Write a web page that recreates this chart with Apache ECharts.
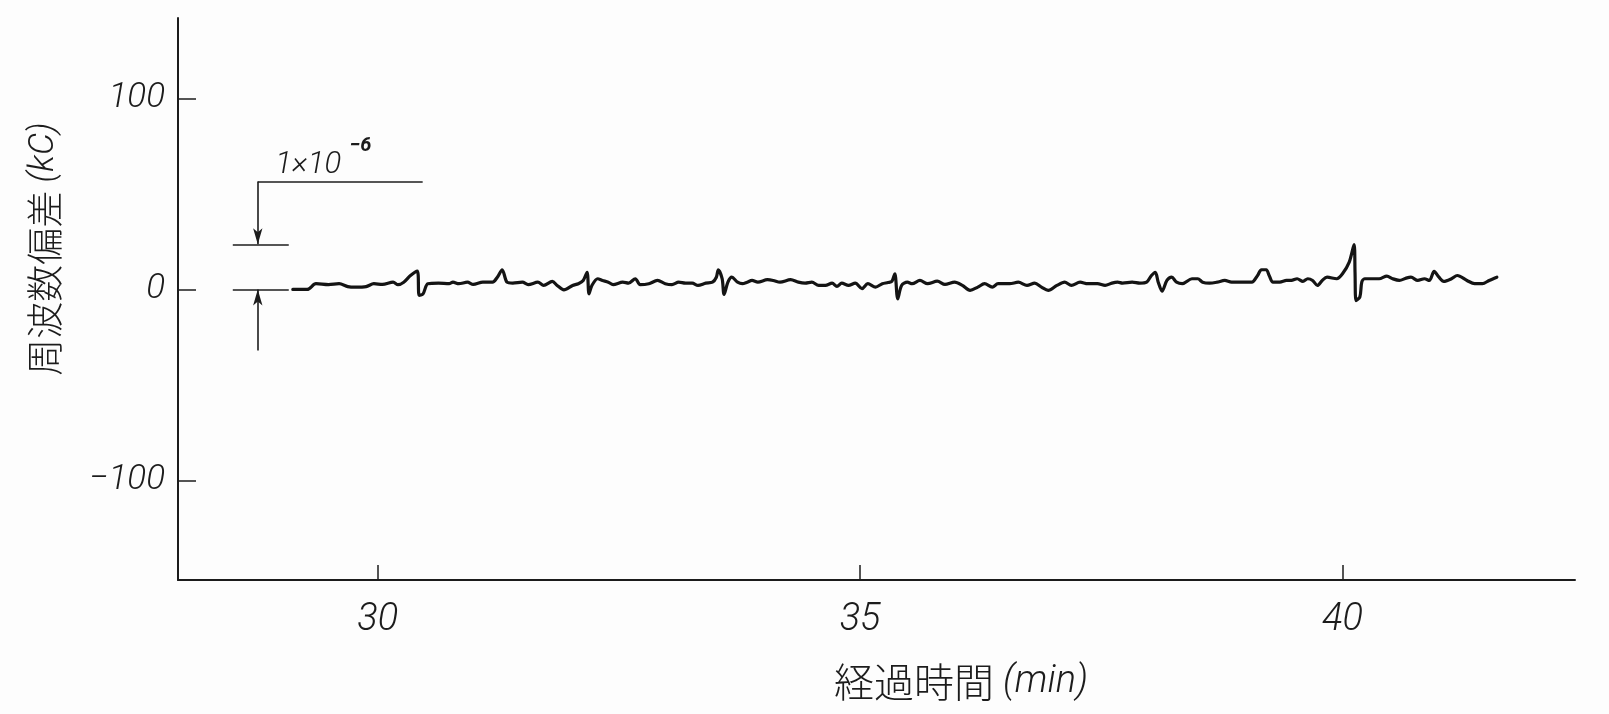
<!DOCTYPE html>
<html>
<head>
<meta charset="utf-8">
<title>周波数偏差</title>
<script src="https://cdn.jsdelivr.net/npm/echarts@6/dist/echarts.min.js"></script>
<style>
  html, body { margin: 0; padding: 0; background: #fdfdfd; }
  #chart { width: 1609px; height: 714px; }
</style>
</head>
<body>
<div id="chart"></div>
<script>
// Elapsed time (min)
const minutes = [
  29.12, 29.27, 29.36, 29.49, 29.60, 29.69, 29.77, 29.88, 29.96, 30.05,
  30.16, 30.21, 30.27, 30.34, 30.41, 30.43, 30.47, 30.52, 30.63, 30.74,
  30.78, 30.84, 30.93, 30.99, 31.09, 31.19, 31.24, 31.29, 31.34, 31.40,
  31.50, 31.56, 31.66, 31.72, 31.81, 31.86, 31.93, 32.02, 32.08, 32.13,
  32.17, 32.19, 32.22, 32.28, 32.33, 32.39, 32.44, 32.54, 32.60, 32.67,
  32.72, 32.81, 32.90, 32.98, 33.05, 33.12, 33.19, 33.26, 33.32, 33.40,
  33.47, 33.51, 33.53, 33.57, 33.59, 33.63, 33.67, 33.73, 33.78, 33.83,
  33.88, 33.94, 34.04, 34.10, 34.17, 34.28, 34.36, 34.43, 34.50, 34.57,
  34.64, 34.71, 34.76, 34.81, 34.88, 34.95, 35.02, 35.08, 35.16, 35.23,
  35.29, 35.33, 35.36, 35.39, 35.43, 35.49, 35.54, 35.62, 35.70, 35.80,
  35.88, 35.98, 36.06, 36.14, 36.22, 36.29, 36.37, 36.43, 36.55, 36.64,
  36.73, 36.81, 36.88, 36.95, 37.04, 37.12, 37.19, 37.28, 37.36, 37.46,
  37.54, 37.61, 37.67, 37.72, 37.82, 37.90, 37.97, 38.02, 38.06, 38.09,
  38.13, 38.18, 38.23, 38.28, 38.34, 38.44, 38.50, 38.55, 38.62, 38.70,
  38.78, 38.85, 38.95, 39.06, 39.12, 39.16, 39.21, 39.24, 39.28, 39.35,
  39.42, 39.47, 39.53, 39.59, 39.64, 39.69, 39.74, 39.79, 39.84, 39.94,
  40.00, 40.07, 40.12, 40.13, 40.14, 40.18, 40.20, 40.23, 40.31, 40.38,
  40.46, 40.52, 40.59, 40.66, 40.71, 40.78, 40.85, 40.90, 40.95, 41.00,
  41.05, 41.13, 41.19, 41.29, 41.37, 41.45, 41.52, 41.60
];

// Frequency deviation (kC)
const deviation = [
  0.0, 0.0, 3.0, 2.5, 3.0, 1.5, 1.2, 1.5, 3.0, 2.6,
  3.8, 2.5, 3.8, 7.3, 9.6, -3.1, -2.3, 3.0, 3.3, 3.0,
  3.8, 3.0, 3.8, 2.6, 3.8, 3.8, 6.4, 10.3, 3.8, 3.3,
  3.8, 2.5, 3.8, 2.1, 4.2, 2.1, -0.2, 2.1, 3.0, 4.7,
  9.0, -2.3, 2.1, 5.6, 4.7, 3.8, 2.5, 3.8, 3.3, 5.6,
  2.5, 3.0, 4.7, 3.0, 2.5, 3.8, 3.3, 3.3, 2.1, 3.3,
  3.8, 6.4, 10.3, 5.6, -2.6, 3.8, 6.4, 3.8, 3.0, 3.8,
  4.7, 3.8, 5.1, 4.7, 3.8, 5.1, 3.8, 3.3, 3.8, 2.1,
  2.1, 3.3, 1.6, 3.3, 2.1, 3.3, 0.4, 3.0, 1.2, 3.0,
  3.6, 4.3, 8.2, -4.9, 2.1, 3.8, 3.0, 4.7, 3.0, 4.3,
  2.6, 3.8, 2.1, -0.5, 1.2, 3.0, 1.2, 3.0, 3.0, 3.8,
  2.1, 3.3, 1.2, -0.5, 2.1, 3.8, 2.1, 3.8, 3.0, 3.0,
  2.1, 3.3, 3.8, 3.3, 3.8, 3.3, 3.8, 7.3, 9.0, 3.8,
  -0.9, 4.7, 6.4, 3.8, 3.0, 5.6, 5.6, 3.8, 3.3, 3.8,
  4.7, 3.8, 3.8, 3.8, 7.3, 10.3, 10.3, 7.3, 3.8, 3.8,
  4.7, 4.7, 5.6, 4.2, 5.6, 4.7, 2.1, 4.7, 6.4, 5.6,
  8.2, 14.3, 23.4, 9.0, -5.8, -4.0, 3.8, 5.6, 5.6, 5.6,
  7.0, 5.6, 4.7, 5.9, 6.4, 4.7, 5.6, 4.7, 9.4, 6.4,
  4.2, 5.6, 7.3, 4.7, 3.0, 3.0, 4.7, 6.4
];

// Axis ticks and ranges
const xTicks = [30, 35, 40];
const yTicks = [-100, 0, 100];
const xRange = [27.93, 42.41];
const yRange = [-152, 142];

// 1×10⁻⁶ scale bracket, in chart units (min, kC)
const bracketX = 28.757;
const bracketLeft = 28.498;
const bracketRight = 29.078;
const leaderEnd = 30.466;
const leaderLevel = 56.5;
const scaleLevel = 23.6;
const baseLevel = 0;
const lowerArrowStart = -32;

// Scale bracket caption
const captionMain = '1×10';
const captionExp = '−6';
const captionMainPos = [29.28, 64.9];
const captionExpPos = [29.82, 75];

const ink = '#1c1c1c';
const numFont = "Roboto, 'Liberation Sans', sans-serif";
const cjkFont = "'Noto Sans CJK JP', 'Noto Sans CJK SC', sans-serif";

const chart = echarts.init(document.getElementById('chart'), null, { renderer: 'canvas' });

const minusFmt = v => (v < 0 ? '−' + Math.abs(v) : String(v));

const seg = (x1, y1, x2, y2, arrowEnd) => [
  { coord: [x1, y1], symbol: 'none' },
  { coord: [x2, y2], symbol: arrowEnd ? 'arrow' : 'none', symbolSize: arrowEnd ? [7, 16] : 0 }
];

const numLabel = { fontFamily: numFont, fontStyle: 'italic', fontWeight: 300, color: ink };

const option = {
  backgroundColor: '#fdfdfd',
  animation: false,
  grid: { left: 178, right: 34, top: 18, bottom: 134 },
  xAxis: {
    type: 'value',
    min: xRange[0],
    max: xRange[1],
    splitLine: { show: false },
    axisLine: { onZero: false, lineStyle: { color: ink, width: 2 } },
    axisTick: { inside: true, length: 15, customValues: xTicks, lineStyle: { color: ink, width: 1.5 } },
    axisLabel: Object.assign({ customValues: xTicks, margin: 21, fontSize: 38 }, numLabel),
    name: '経過時間 {i|(min)}',
    nameLocation: 'middle',
    nameGap: 82,
    nameTextStyle: {
      fontFamily: cjkFont,
      fontSize: 40,
      fontWeight: 300,
      color: ink,
      padding: [0, 0, 0, 169],
      rich: { i: Object.assign({ fontSize: 38 }, numLabel) }
    }
  },
  yAxis: {
    type: 'value',
    min: yRange[0],
    max: yRange[1],
    splitLine: { show: false },
    axisLine: { onZero: false, lineStyle: { color: ink, width: 2 } },
    axisTick: { inside: true, length: 18, customValues: yTicks, lineStyle: { color: ink, width: 1.5 } },
    axisLabel: Object.assign({ customValues: yTicks, margin: 13, formatter: minusFmt, fontSize: 35 }, numLabel),
    name: '周波数偏差 {i|(kC)}',
    nameLocation: 'middle',
    nameRotate: 90,
    nameGap: 115,
    nameTextStyle: {
      fontFamily: cjkFont,
      fontSize: 37,
      fontWeight: 300,
      color: ink,
      padding: [0, 0, 0, 100],
      rich: { i: Object.assign({ fontSize: 35 }, numLabel) }
    }
  },
  series: [
    {
      name: '周波数偏差',
      type: 'line',
      data: minutes.map((t, i) => [t, deviation[i]]),
      showSymbol: false,
      silent: true,
      smooth: 0.3,
      lineStyle: { color: '#141414', width: 3.2, join: 'round', cap: 'round' }
    },
    {
      name: 'scale',
      type: 'line',
      data: [],
      silent: true,
      markLine: {
        silent: true,
        animation: false,
        label: { show: false },
        lineStyle: { color: ink, width: 1.6, type: 'solid' },
        emphasis: { disabled: true },
        data: [
          seg(bracketX, leaderLevel, leaderEnd, leaderLevel, false),
          seg(bracketX, leaderLevel, bracketX, scaleLevel, true),
          seg(bracketLeft, scaleLevel, bracketRight, scaleLevel, false),
          seg(bracketLeft, baseLevel, bracketRight, baseLevel, false),
          seg(bracketX, lowerArrowStart, bracketX, baseLevel, true)
        ]
      }
    },
    {
      name: 'caption',
      type: 'scatter',
      silent: true,
      symbolSize: 0,
      itemStyle: { opacity: 1 },
      data: [
        {
          value: [captionMainPos[0], captionMainPos[1]],
          label: Object.assign({ show: true, position: 'inside', formatter: captionMain, fontSize: 31 }, numLabel)
        },
        {
          value: [captionExpPos[0], captionExpPos[1]],
          label: Object.assign({ show: true, position: 'inside', formatter: captionExp, fontSize: 20 }, numLabel, { fontWeight: 'bold' })
        }
      ]
    }
  ]
};

chart.setOption(option);
</script>
</body>
</html>
